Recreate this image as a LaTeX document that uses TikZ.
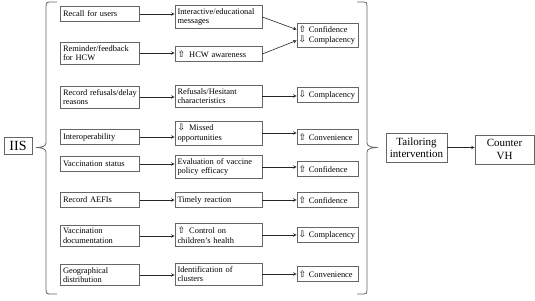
\documentclass[tikz,border=0pt]{standalone}
\usepackage{fontspec}
\setmainfont{Liberation Serif}
\newfontfamily\arrowfont{DejaVu Sans}
\newcommand{\arrUp}{{\arrowfont\fontsize{9}{9.5}\selectfont\char"21E7}}
\newcommand{\arrDn}{{\arrowfont\fontsize{9}{9.5}\selectfont\char"21E9}}

\begin{document}
\begin{tikzpicture}[x=1pt, y=-1pt, >=stealth, line width=0.6pt,
	box/.style={draw=black!60, align=left, font=\fontsize{8.4}{9.6}\selectfont, inner xsep=2.5pt, inner ysep=3pt, minimum height=15pt},
	srcbox/.style={box, text width=74pt},
	effbox/.style={box, text width=82pt},
	outbox/.style={box, text width=58pt, inner xsep=1.5pt},
	bigbox/.style={draw=black!60, align=center, font=\fontsize{11}{12.5}\selectfont, minimum height=29pt, inner sep=2pt},
	link/.style={->, black!85},
	brace/.style={draw=black!60, line width=0.8pt}]
	\useasboundingbox (0,0) rectangle (535,300);

	% 左侧：IIS 及大括号
	\node[draw=black!60, font=\fontsize{14}{16}\selectfont, minimum width=28pt, minimum height=17pt, inner sep=1pt] (iis) at (18,146) {IIS};
	\draw[brace] (57,2) -- (49,2) .. controls (46.5,2) and (46,3) .. (46,6) -- (46,143)
		.. controls (46,146.5) and (41,147.5) .. (36,147.5)
		.. controls (41,147.5) and (46,148.5) .. (46,152) -- (46,290)
		.. controls (46,293) and (46.5,294) .. (49,294) -- (57,294);

	% 第一列：IIS 功能
	\node[srcbox] (src1) at (100,14) {Recall for users};
	\node[srcbox] (src2) at (100,53) {Reminder/feedback\\for HCW};
	\node[srcbox] (src3) at (100,97) {Record refusals/delay\\reasons};
	\node[srcbox] (src4) at (100,137) {Interoperability};
	\node[srcbox] (src5) at (100,164) {Vaccination status};
	\node[srcbox] (src6) at (100,200) {Record AEFIs};
	\node[srcbox] (src7) at (100,236) {Vaccination\\documentation};
	\node[srcbox] (src8) at (100,275) {Geographical\\distribution};

	% 第二列：作用
	\node[effbox] (eff1) at (218.5,17) {Interactive/educational\\messages};
	\node[effbox] (eff2) at (218.5,54) {\arrUp\enspace HCW awareness};
	\node[effbox] (eff3) at (218.5,96) {Refusals/Hesitant\\characteristics};
	\node[effbox] (eff4) at (218.5,133) {\arrDn\enspace Missed\\opportunities};
	\node[effbox] (eff5) at (218.5,167) {Evaluation of vaccine\\policy efficacy};
	\node[effbox] (eff6) at (218.5,200) {Timely reaction};
	\node[effbox] (eff7) at (218.5,235) {\arrUp\enspace Control on\\children's health};
	\node[effbox] (eff8) at (218.5,274) {Identification of\\clusters};

	% 第三列：VH 决定因素
	\node[outbox] (out1) at (327.5,35) {\arrUp\ Confidence\\\arrDn\ Complacency};
	\node[outbox] (out2) at (327.5,95) {\arrDn\ Complacency};
	\node[outbox] (out3) at (327.5,137) {\arrUp\ Convenience};
	\node[outbox] (out4) at (327.5,169) {\arrUp\ Confidence};
	\node[outbox] (out5) at (327.5,200) {\arrUp\ Confidence};
	\node[outbox] (out6) at (327.5,235) {\arrDn\ Complacency};
	\node[outbox] (out7) at (327.5,274) {\arrUp\ Convenience};

	% 连线：功能 -> 作用
	\draw[link] (src1.east) -- (src1.east -| eff1.west);
	\draw[link] (src2.east) -- (src2.east -| eff2.west);
	\draw[link] (src3.east) -- (src3.east -| eff3.west);
	\draw[link] (src4.east) -- (src4.east -| eff4.west);
	\draw[link] (src5.east) -- (src5.east -| eff5.west);
	\draw[link] (src6.east) -- (src6.east -| eff6.west);
	\draw[link] (src7.east) -- (src7.east -| eff7.west);
	\draw[link] (src8.east) -- (src8.east -| eff8.west);

	% 连线：作用 -> 决定因素
	\draw[link] (eff1.east) -- (out1.170);
	\draw[link] (eff2.east) -- (out1.190);
	\draw[link] (eff3.east) -- (eff3.east -| out2.west);
	\draw[link] (eff4.east) -- (eff4.east -| out3.west);
	\draw[link] (eff5.east) -- (eff5.east -| out4.west);
	\draw[link] (eff6.east) -- (eff6.east -| out5.west);
	\draw[link] (eff7.east) -- (eff7.east -| out6.west);
	\draw[link] (eff8.east) -- (eff8.east -| out7.west);

	% 右侧：大括号 -> 干预 -> Counter VH
	\draw[brace] (357,2) -- (364,2) .. controls (366.5,2) and (367,3) .. (367,6) -- (367,143)
		.. controls (367,146.5) and (372,147.5) .. (378,147.5)
		.. controls (372,147.5) and (367,148.5) .. (367,152) -- (367,290)
		.. controls (367,293) and (366.5,294) .. (364,294) -- (357,294);
	\node[bigbox, minimum width=61pt] (tail) at (416.5,147.5) {Tailoring\\intervention};
	\node[bigbox, minimum width=59pt] (vh) at (504.5,149.5) {Counter\\VH};
	\draw[link] (tail.east) -- (tail.east -| vh.west);
\end{tikzpicture}
\end{document}
